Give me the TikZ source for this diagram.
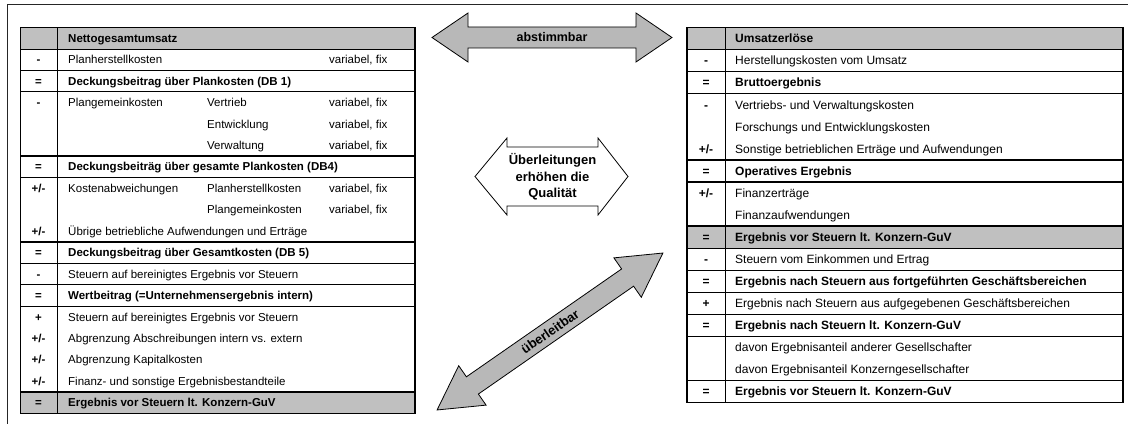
\documentclass[tikz,border=0pt]{standalone}
\usepackage{fontspec}
\setmainfont{Liberation Sans}
\definecolor{hdrgray}{RGB}{192,192,192}
\definecolor{arrgray}{RGB}{184,184,184}
\newcommand\fs{\fontsize{11.5}{13.5}\selectfont}
\newcommand\fsr{\fontsize{12}{14}\selectfont}
\newcommand\LY[1]{\fpeval{27.5+(#1+0.5)*21.44+4.1}}
\newcommand\LB[1]{\fpeval{27.5+(#1)*21.44}}
\newcommand\RY[1]{\fpeval{27.5+(#1+0.5)*22.06+4.3}}
\newcommand\RB[1]{\fpeval{27.5+(#1)*22.06}}
\tikzset{
  txt/.style={anchor=base west, inner sep=0pt, font=\fs},
  bld/.style={anchor=base west, inner sep=0pt, font=\fs\bfseries},
  sgn/.style={anchor=base, inner sep=0pt, font=\fs\bfseries},
  rtxt/.style={anchor=base west, inner sep=0pt, font=\fsr},
  rbld/.style={anchor=base west, inner sep=0pt, font=\fsr\bfseries},
  rsgn/.style={anchor=base, inner sep=0pt, font=\fsr\bfseries},
  rule/.style={line width=0.8pt},
  boldrule/.style={line width=1.3pt},
  outer/.style={line width=1.3pt},
  blockarrow/.style={draw, line width=0.8pt, fill=arrgray, line join=miter},
  whitearrow/.style={draw, line width=0.8pt, fill=white, line join=miter},
  arrtext/.style={inner sep=0pt, font=\fontsize{12.5}{15}\selectfont\bfseries, align=center}
}
\begin{document}
\begin{tikzpicture}[x=1pt,y=-1pt]
\useasboundingbox (0,0) rectangle (1128,428);
% frame
\draw[line width=1pt, black!85] (1128,5) -- (7,5) -- (7,424);

% ===== left table =====
\fill[hdrgray] (20.5,{\LB{0}}) rectangle (415,{\LB{1}});
\fill[hdrgray] (20.5,{\LB{17}}) rectangle (415,{\LB{18}});
\foreach \i in {1,11,13} \draw[rule] (20.5,{\LB{\i}}) -- (415,{\LB{\i}});
\foreach \i in {2,3,6,7,10,12,17} \draw[boldrule] (20.5,{\LB{\i}}) -- (415,{\LB{\i}});
\draw[rule] (57,{\LB{0}}) -- (57,{\LB{18}});
\draw[outer] (20.5,{\LB{0}}) rectangle (415,{\LB{18}});

\node[bld] (l0) at (68,{\LY{0}}) {Nettogesamtumsatz};
\node[sgn] (l1s) at (38.5,{\LY{1}}) {-};
\node[txt] (l1) at (68,{\LY{1}}) {Planherstellkosten};
\node[txt] (l1c) at (329,{\LY{1}}) {variabel, fix};
\node[sgn] (l2s) at (38.5,{\LY{2}}) {=};
\node[bld] (l2) at (68,{\LY{2}}) {Deckungsbeitrag über Plankosten (DB 1)};
\node[sgn] (l3s) at (38.5,{\LY{3}}) {-};
\node[txt] (l3) at (68,{\LY{3}}) {Plangemeinkosten};
\node[txt] (l3b) at (207,{\LY{3}}) {Vertrieb};
\node[txt] (l3c) at (329,{\LY{3}}) {variabel, fix};
\node[txt] (l4b) at (207,{\LY{4}}) {Entwicklung};
\node[txt] (l4c) at (329,{\LY{4}}) {variabel, fix};
\node[txt] (l5b) at (207,{\LY{5}}) {Verwaltung};
\node[txt] (l5c) at (329,{\LY{5}}) {variabel, fix};
\node[sgn] (l6s) at (38.5,{\LY{6}}) {=};
\node[bld] (l6) at (68,{\LY{6}}) {Deckungsbeiträg über gesamte Plankosten (DB4)};
\node[sgn] (l7s) at (38.5,{\LY{7}}) {+/-};
\node[txt] (l7) at (68,{\LY{7}}) {Kostenabweichungen};
\node[txt] (l7b) at (207,{\LY{7}}) {Planherstellkosten};
\node[txt] (l7c) at (329,{\LY{7}}) {variabel, fix};
\node[txt] (l8b) at (207,{\LY{8}}) {Plangemeinkosten};
\node[txt] (l8c) at (329,{\LY{8}}) {variabel, fix};
\node[sgn] (l9s) at (38.5,{\LY{9}}) {+/-};
\node[txt] (l9) at (68,{\LY{9}}) {Übrige betriebliche Aufwendungen und Erträge};
\node[sgn] (l10s) at (38.5,{\LY{10}}) {=};
\node[bld] (l10) at (68,{\LY{10}}) {Deckungsbeitrag über Gesamtkosten (DB 5)};
\node[sgn] (l11s) at (38.5,{\LY{11}}) {-};
\node[txt] (l11) at (68,{\LY{11}}) {Steuern auf bereinigtes Ergebnis vor Steuern};
\node[sgn] (l12s) at (38.5,{\LY{12}}) {=};
\node[bld] (l12) at (68,{\LY{12}}) {Wertbeitrag (=Unternehmensergebnis intern)};
\node[sgn] (l13s) at (38.5,{\LY{13}}) {+};
\node[txt] (l13) at (68,{\LY{13}}) {Steuern auf bereinigtes Ergebnis vor Steuern};
\node[sgn] (l14s) at (38.5,{\LY{14}}) {+/-};
\node[txt] (l14) at (68,{\LY{14}}) {Abgrenzung Abschreibungen intern vs. extern};
\node[sgn] (l15s) at (38.5,{\LY{15}}) {+/-};
\node[txt] (l15) at (68,{\LY{15}}) {Abgrenzung Kapitalkosten};
\node[sgn] (l16s) at (38.5,{\LY{16}}) {+/-};
\node[txt] (l16) at (68,{\LY{16}}) {Finanz- und sonstige Ergebnisbestandteile};
\node[sgn] (l17s) at (38.5,{\LY{17}}) {=};
\node[bld] (l17) at (68,{\LY{17}}) {Ergebnis vor Steuern lt. Konzern-GuV};

% ===== right table =====
\fill[hdrgray] (687,{\RB{0}}) rectangle (1123,{\RB{1}});
\fill[hdrgray] (687,{\RB{9}}) rectangle (1123,{\RB{10}});
\foreach \i in {1,10,12,14} \draw[rule] (687,{\RB{\i}}) -- (1123,{\RB{\i}});
\foreach \i in {2,3,6,7,9,11,13,16} \draw[boldrule] (687,{\RB{\i}}) -- (1123,{\RB{\i}});
\draw[rule] (725,{\RB{0}}) -- (725,{\RB{17}});
\draw[outer] (687,{\RB{0}}) rectangle (1123,{\RB{17}});

\node[rbld] (r0) at (735,{\RY{0}}) {Umsatzerlöse};
\node[rsgn] (r1s) at (706,{\RY{1}}) {-};
\node[rtxt] (r1) at (735,{\RY{1}}) {Herstellungskosten vom Umsatz};
\node[rsgn] (r2s) at (706,{\RY{2}}) {=};
\node[rbld] (r2) at (735,{\RY{2}}) {Bruttoergebnis};
\node[rsgn] (r3s) at (706,{\RY{3}}) {-};
\node[rtxt] (r3) at (735,{\RY{3}}) {Vertriebs- und Verwaltungskosten};
\node[rtxt] (r4) at (735,{\RY{4}}) {Forschungs und Entwicklungskosten};
\node[rsgn] (r5s) at (706,{\RY{5}}) {+/-};
\node[rtxt] (r5) at (735,{\RY{5}}) {Sonstige betrieblichen Erträge und Aufwendungen};
\node[rsgn] (r6s) at (706,{\RY{6}}) {=};
\node[rbld] (r6) at (735,{\RY{6}}) {Operatives Ergebnis};
\node[rsgn] (r7s) at (706,{\RY{7}}) {+/-};
\node[rtxt] (r7) at (735,{\RY{7}}) {Finanzerträge};
\node[rtxt] (r8) at (735,{\RY{8}}) {Finanzaufwendungen};
\node[rsgn] (r9s) at (706,{\RY{9}}) {=};
\node[rbld] (r9) at (735,{\RY{9}}) {Ergebnis vor Steuern lt. Konzern-GuV};
\node[rsgn] (r10s) at (706,{\RY{10}}) {-};
\node[rtxt] (r10) at (735,{\RY{10}}) {Steuern vom Einkommen und Ertrag};
\node[rsgn] (r11s) at (706,{\RY{11}}) {=};
\node[rbld] (r11) at (735,{\RY{11}}) {Ergebnis nach Steuern aus fortgeführten Geschäftsbereichen};
\node[rsgn] (r12s) at (706,{\RY{12}}) {+};
\node[rtxt] (r12) at (735,{\RY{12}}) {Ergebnis nach Steuern aus aufgegebenen Geschäftsbereichen};
\node[rsgn] (r13s) at (706,{\RY{13}}) {=};
\node[rbld] (r13) at (735,{\RY{13}}) {Ergebnis nach Steuern lt. Konzern-GuV};
\node[rtxt] (r14) at (735,{\RY{14}}) {davon Ergebnisanteil anderer Gesellschafter};
\node[rtxt] (r15) at (735,{\RY{15}}) {davon Ergebnisanteil Konzerngesellschafter};
\node[rsgn] (r16s) at (706,{\RY{16}}) {=};
\node[rbld] (r16) at (735,{\RY{16}}) {Ergebnis vor Steuern lt. Konzern-GuV};

% ===== arrows =====
\draw[blockarrow] (432,37.5) -- (468,13) -- (468,27) -- (636,27) -- (636,13) -- (672,37.5)
  -- (636,62) -- (636,48) -- (468,48) -- (468,62) -- cycle;
\node[arrtext] (abst) at (552,37.5) {abstimmbar};

\draw[whitearrow] (475,176.5) -- (507,138) -- (507,147) -- (598,147) -- (598,138) -- (628,176.5)
  -- (598,215) -- (598,206) -- (507,206) -- (507,215) -- cycle;
\node[arrtext, font=\fontsize{13}{16.5}\selectfont\bfseries] (qual) at (552.5,177) {Überleitungen\\erhöhen die\\Qualität};

\begin{scope}[shift={(550,331.5)}, rotate=34.8]
\draw[blockarrow] (-137.5,0) -- (-94.5,24) -- (-94.5,10.5) -- (94.5,10.5) -- (94.5,24) -- (137.5,0)
  -- (94.5,-24) -- (94.5,-10.5) -- (-94.5,-10.5) -- (-94.5,-24) -- cycle;
\end{scope}
\node[arrtext, font=\fontsize{13}{15}\selectfont\bfseries, rotate=34.8] (ueb) at (550,331.5) {überleitbar};
\end{tikzpicture}
\end{document}
